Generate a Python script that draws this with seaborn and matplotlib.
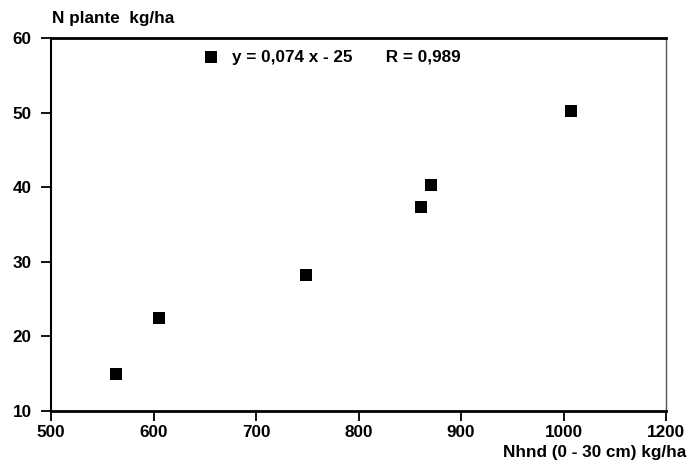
import matplotlib
matplotlib.use("Agg")
import matplotlib.pyplot as plt
import seaborn as sns
import pandas as pd

# Data
nhnd = [563, 605, 749, 861, 871, 1007]
n_plante = [14.9, 22.5, 28.2, 37.3, 40.3, 50.2]
x_ticks = [500, 600, 700, 800, 900, 1000, 1100]
x_tick_labels = ["500", "600", "700", "800", "900", "1000", "1200"]
y_ticks = [10, 20, 30, 40, 50, 60]
legend_label = "y = 0,074 x - 25       R = 0,989"

sns.set_theme(style="white")
plt.rcParams['font.family'] = ['Liberation Sans', 'DejaVu Sans']
plt.rcParams['text.color'] = 'black'

FS = 12.3

df = pd.DataFrame({"x": nhnd, "y": n_plante})

fig = plt.figure(figsize=(6.88, 4.61), dpi=100)
ax = fig.add_axes([51/688, 1 - 411/461, 615/688, 373/461])

sns.scatterplot(data=df, x="x", y="y", marker="s", s=80, color="black",
                edgecolor="black", linewidth=0, label=legend_label, ax=ax)

ax.set_xlim(500, 1100)
ax.set_ylim(10, 60)
ax.set_xticks(x_ticks)
ax.set_xticklabels(x_tick_labels)
ax.set_yticks(y_ticks)
ax.tick_params(axis="both", which="major", direction="out", length=7, width=1.3,
               color="black", labelsize=FS, labelcolor="black",
               bottom=True, left=True)
ax.tick_params(axis="x", pad=3)
ax.tick_params(axis="y", pad=7)
for lab in ax.get_xticklabels() + ax.get_yticklabels():
    lab.set_fontweight("bold")

for side, lw, col in [("top", 2.0, "black"), ("bottom", 2.0, "black"),
                      ("left", 1.5, "black"), ("right", 1.0, "#555555")]:
    ax.spines[side].set_visible(True)
    ax.spines[side].set_linewidth(lw)
    ax.spines[side].set_color(col)

ax.set_xlabel("")
ax.set_ylabel("")
fig.text(686/688, 1 - 452/461, "Nhnd (0 - 30 cm) kg/ha", ha="right", va="center",
         fontsize=FS, fontweight="bold", color="black")
fig.text(52/688, 1 - 19/461, "N plante  kg/ha", ha="left", va="center",
         fontsize=FS, fontweight="bold", color="black")

leg = ax.legend(loc="center left", bbox_to_anchor=(0.232, 0.949), frameon=False,
                handletextpad=0.25, borderaxespad=0, borderpad=0,
                prop={"weight": "bold", "size": FS})
for t in leg.get_texts():
    t.set_color("black")

fig.savefig("out.png", dpi=100)
